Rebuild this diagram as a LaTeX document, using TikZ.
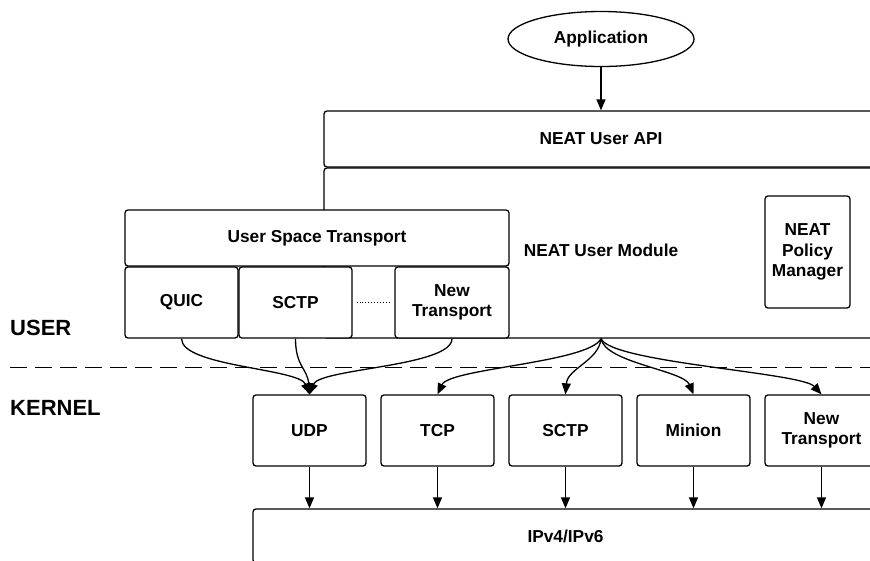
\documentclass[tikz,border=0pt]{standalone}
\usepackage{fontspec}
\setmainfont{Liberation Sans}
\usetikzlibrary{arrows.meta,shapes.geometric}
\begin{document}
\begin{tikzpicture}[x=1pt,y=-1pt,
  base/.style={draw=black,line width=1.3pt,fill=white,align=center,inner sep=0pt,
    font=\fontsize{17.3}{20.5}\selectfont\bfseries},
  box/.style={base,rectangle,rounded corners=3pt},
  conn/.style={line width=1.3pt,-{Triangle[length=11pt,width=9pt]}},
  lbl/.style={font=\fontsize{22}{26}\selectfont\bfseries,anchor=west,inner sep=0pt}]
\useasboundingbox (0,0) rectangle (870,560);
\clip (0,0) rectangle (870,560);
\fill[white] (0,0) rectangle (870,560);
% user space
\node[base,ellipse,minimum width=186pt,minimum height=55pt] (app) at (601,39) {Application};
\node[box,minimum width=554pt,minimum height=56pt] (api) at (601,139) {NEAT User API};
\node[box,minimum width=554pt,minimum height=170pt] (module) at (601,253) {};
\node[font=\fontsize{17.3}{20.5}\selectfont\bfseries] (modtxt) at (601,250) {NEAT User Module};
\node[box,minimum width=384pt,minimum height=56pt] (ust) at (317,238) {User Space Transport};
\node[box,minimum width=113pt,minimum height=71pt] (quic) at (181.5,302.5) {QUIC};
\node[box,minimum width=113pt,minimum height=71pt] (usctp) at (295.5,302.5) {SCTP};
\node[box,minimum width=114pt,minimum height=71pt] (unew) at (452,302.5) {New\\Transport};
\draw[line width=0.9pt,dotted] (usctp.east) ++(4,0) coordinate (d1) -- ([xshift=-4pt]unew.west);
\node[box,minimum width=85pt,minimum height=112pt] (pm) at (807.5,252) {NEAT\\Policy\\Manager};
% separator
\draw[line width=1pt,dash pattern=on 17pt off 8pt] (10,367) coordinate (s1) -- (870,367) coordinate (s2);
\node[lbl] (user) at (10,328) {USER};
\node[lbl] (kernel) at (10,408) {KERNEL};
% kernel
\node[box,minimum width=113pt,minimum height=71pt] (udp) at (309.5,430.5) {UDP};
\node[box,minimum width=113pt,minimum height=71pt] (tcp) at (437.5,430.5) {TCP};
\node[box,minimum width=113pt,minimum height=71pt] (ksctp) at (565.5,430.5) {SCTP};
\node[box,minimum width=113pt,minimum height=71pt] (minion) at (693.5,430.5) {Minion};
\node[box,minimum width=113pt,minimum height=71pt] (knew) at (821.5,430.5) {New\\Transport};
\node[box,minimum width=625pt,minimum height=54pt] (ip) at (565.5,536) {IPv4/IPv6};
% connectors
\draw[conn] (app.south) -- (api.north);
\draw[conn] (quic.south) .. controls +(0,28) and +(-10,-26) .. (udp.north);
\draw[conn] (usctp.south) .. controls +(0,28) and +(-2,-26) .. (udp.north);
\draw[conn] (unew.south) .. controls +(0,28) and +(10,-26) .. (udp.north);
\draw[conn] (module.south) .. controls +(-12,24) and +(12,-26) .. (tcp.north);
\draw[conn] (module.south) .. controls +(-2,22) and +(2,-26) .. (ksctp.north);
\draw[conn] (module.south) .. controls +(4,24) and +(-10,-24) .. (minion.north);
\draw[conn] (module.south) .. controls +(10,24) and +(-20,-22) .. (knew.north);
\foreach \k in {udp,tcp,ksctp,minion,knew}
  \draw[conn] (\k.south) -- (\k.south |- ip.north);
\end{tikzpicture}
\end{document}
